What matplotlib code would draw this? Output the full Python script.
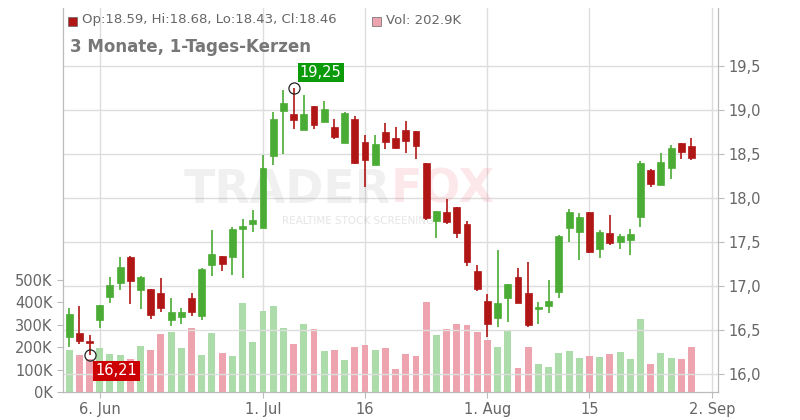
import numpy as np
import matplotlib.pyplot as plt
from matplotlib.patches import Rectangle

# OHLC values per trading day
opens = [16.42, 16.47, 16.36, 16.61, 16.88, 17.03, 17.33, 16.95, 16.97, 16.92,
         16.61, 16.65, 16.86, 16.66, 17.24, 17.34, 17.33, 17.65, 17.70, 17.66,
         18.48, 18.99, 18.95, 18.77, 19.05, 18.86, 18.81, 18.63, 18.90, 18.64,
         18.38, 18.75, 18.68, 18.77, 18.76, 18.40, 17.74, 17.84, 17.90, 17.70,
         17.17, 16.83, 16.64, 16.86, 17.10, 16.92, 16.74, 16.77, 16.93, 17.66,
         17.61, 17.84, 17.42, 17.60, 17.50, 17.52, 17.78, 18.32, 18.15, 18.34,
         18.63, 18.59]
closes = [16.68, 16.37, 16.35, 16.78, 17.01, 17.22, 17.06, 17.10, 16.67, 16.75,
          16.70, 16.70, 16.71, 17.19, 17.36, 17.25, 17.65, 17.68, 17.75, 18.34,
          18.90, 19.08, 18.89, 18.95, 18.83, 19.01, 18.69, 18.97, 18.40, 18.43,
          18.61, 18.64, 18.57, 18.65, 18.59, 17.77, 17.85, 17.73, 17.60, 17.27,
          16.97, 16.57, 16.81, 17.02, 16.81, 16.56, 16.75, 16.83, 17.57, 17.84,
          17.78, 17.39, 17.61, 17.49, 17.57, 17.59, 18.40, 18.16, 18.41, 18.57,
          18.52, 18.46]
highs = [16.75, 16.77, 16.44, 16.78, 17.10, 17.33, 17.34, 17.11, 16.97, 17.09,
         16.86, 16.75, 16.92, 17.20, 17.64, 17.34, 17.67, 17.76, 17.86, 18.49,
         18.98, 19.23, 19.25, 19.17, 19.05, 19.10, 18.90, 18.98, 18.93, 18.72,
         18.72, 18.85, 18.81, 18.88, 18.76, 18.40, 17.85, 17.99, 17.90, 17.74,
         17.24, 16.91, 17.41, 17.02, 17.20, 17.27, 16.82, 17.07, 17.58, 17.88,
         17.83, 17.84, 17.64, 17.81, 17.59, 17.65, 18.42, 18.33, 18.51, 18.60,
         18.63, 18.68]
lows = [16.31, 16.34, 16.21, 16.52, 16.81, 16.95, 16.80, 16.74, 16.62, 16.70,
        16.55, 16.57, 16.66, 16.61, 17.11, 17.17, 17.13, 17.09, 17.61, 17.66,
        18.37, 18.50, 18.78, 18.77, 18.78, 18.86, 18.67, 18.63, 18.39, 18.12,
        18.38, 18.56, 18.56, 18.51, 18.44, 17.75, 17.55, 17.70, 17.55, 17.23,
        16.94, 16.42, 16.53, 16.59, 16.81, 16.53, 16.57, 16.69, 16.86, 17.50,
        17.30, 17.38, 17.32, 17.47, 17.42, 17.35, 17.67, 18.13, 18.15, 18.22,
        18.44, 18.43]
volumes = [187, 165, 147, 196, 170, 164, 147, 205, 187, 259,
           268, 196, 286, 165, 263, 174, 161, 397, 223, 362,
           384, 286, 214, 304, 281, 183, 187, 143, 201, 210,
           187, 196, 103, 170, 161, 402, 254, 281, 304, 299,
           268, 232, 201, 272, 107, 201, 125, 112, 174, 183,
           152, 161, 156, 170, 179, 147, 326, 125, 174, 152,
           147, 201]
date_ticks = [3, 19, 29, 41, 51, 63]
date_labels = ["6. Jun", "1. Jul", "16", "1. Aug", "15", "2. Sep"]
price_ticks = [16.0, 16.5, 17.0, 17.5, 18.0, 18.5, 19.0, 19.5]
vol_ticks = [0, 100, 200, 300, 400, 500]

GREEN, RED = "#4aac34", "#b01616"
VGREEN, VRED = "#acdcaa", "#eea4ae"
GRID, TXT = "#dddddd", "#666666"

fig = plt.figure(figsize=(8, 4.2), dpi=100)
ax = fig.add_axes([63 / 800, 28 / 420, 655 / 800, 384 / 420])
ax2 = ax.twinx()

x = np.arange(len(opens))
up = [c >= o for o, c in zip(opens, closes)]

# volume bars
ax.bar(x, volumes, width=0.68, color=[VGREEN if u else VRED for u in up], zorder=2)
ax.set_ylim(0, 1714)
ax.set_yticks(vol_ticks)
ax.set_yticklabels([f"{v}K" for v in vol_ticks])
ax.set_xlim(-0.6, 63.6)
ax.set_xticks(date_ticks)
ax.set_xticklabels(date_labels)
ax.xaxis.grid(True, color=GRID, lw=1)
ax.set_axisbelow(True)

# candles
for i in x:
    col = GREEN if up[i] else RED
    ax2.vlines(i, lows[i], highs[i], color=col, lw=1.2, zorder=3)
    lo, hi = min(opens[i], closes[i]), max(opens[i], closes[i])
    ax2.add_patch(Rectangle((i - 0.34, lo), 0.68, max(hi - lo, 0.02),
                            facecolor=col, edgecolor=col, lw=0.5, zorder=4))
ax2.set_ylim(15.795, 20.16)
ax2.set_yticks(price_ticks)
ax2.set_yticklabels([f"{p:.1f}".replace(".", ",") for p in price_ticks])
ax2.yaxis.grid(True, color=GRID, lw=1, zorder=0)
ax2.set_axisbelow(True)

for a in (ax, ax2):
    for s in a.spines.values():
        s.set_color("#bbbbbb")
    a.spines["top"].set_visible(False)
    a.tick_params(colors=TXT, labelsize=10.5, length=4, color="#bbbbbb")

# watermark
ax2.text(0.50, 0.525, "TRADER", transform=ax.transAxes, fontsize=33, fontweight="bold",
         color="#888888", alpha=0.12, ha="right", va="center", zorder=1)
ax2.text(0.50, 0.525, "FOX", transform=ax.transAxes, fontsize=33, fontweight="bold",
         color="#ee6677", alpha=0.15, ha="left", va="center", zorder=1)
ax2.text(0.45, 0.445, "REALTIME STOCK SCREENING", transform=ax.transAxes, fontsize=7.5,
         color="#888888", alpha=0.22, ha="center", va="center", zorder=1)

# high / low markers
hi_i = int(np.argmax(highs))
lo_i = int(np.argmin(lows))
for i, p in ((hi_i, highs[hi_i]), (lo_i, lows[lo_i])):
    ax2.plot(i, p, "o", ms=8, mfc="none", mec="#222222", mew=0.9, zorder=6)
ax2.text(hi_i + 0.6, highs[hi_i] + 0.09, f"{highs[hi_i]:.2f}".replace(".", ","),
         color="white", fontsize=10.5, va="bottom", ha="left", zorder=7,
         bbox=dict(boxstyle="square,pad=0.15", fc="#0a9a0a", ec="none"))
ax2.text(lo_i + 0.6, lows[lo_i] - 0.09, f"{lows[lo_i]:.2f}".replace(".", ","),
         color="white", fontsize=10.5, va="top", ha="left", zorder=7,
         bbox=dict(boxstyle="square,pad=0.15", fc="#cc0000", ec="none"))

# header
fig.patches.append(Rectangle((68 / 800, 1 - 26 / 420), 9 / 800, 9 / 420, transform=fig.transFigure,
                             fc=RED, ec="#666666", lw=0.5))
fig.text(82 / 800, 1 - 20 / 420, f"Op:{opens[-1]:.2f}, Hi:{highs[-1]:.2f}, Lo:{lows[-1]:.2f}, Cl:{closes[-1]:.2f}",
         fontsize=9.5, color=TXT, va="center")
fig.patches.append(Rectangle((372 / 800, 1 - 26 / 420), 9 / 800, 9 / 420, transform=fig.transFigure,
                             fc=VRED, ec="#666666", lw=0.5))
fig.text(386 / 800, 1 - 20 / 420, "Vol: 202.9K", fontsize=9.5, color=TXT, va="center")
fig.text(70 / 800, 1 - 47 / 420, "3 Monate, 1-Tages-Kerzen", fontsize=12, fontweight="bold",
         color="#777777", va="center")

fig.savefig("out.png", dpi=100)
